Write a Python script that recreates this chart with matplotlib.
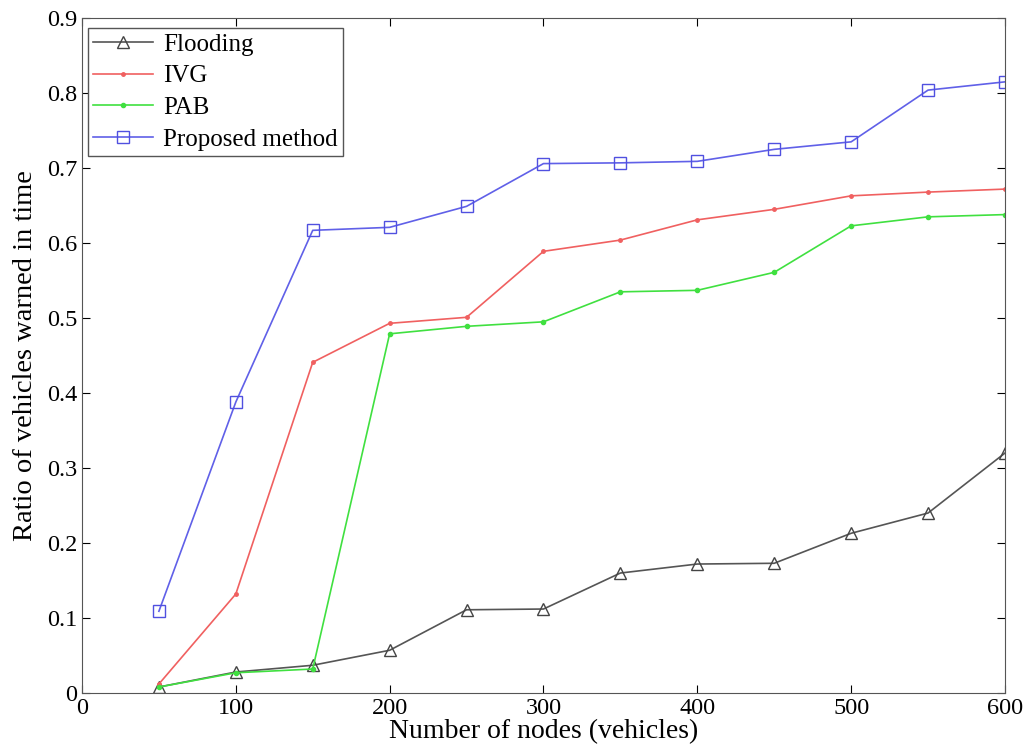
import numpy as np
import matplotlib
matplotlib.use('Agg')
import matplotlib.pyplot as plt

nodes = [50, 100, 150, 200, 250, 300, 350, 400, 450, 500, 550, 600]
flooding = [0.008, 0.028, 0.037, 0.057, 0.111, 0.112, 0.160, 0.172, 0.173, 0.213, 0.240, 0.320]
ivg = [0.012, 0.132, 0.441, 0.493, 0.501, 0.589, 0.604, 0.631, 0.645, 0.663, 0.668, 0.672]
pab = [0.008, 0.027, 0.032, 0.479, 0.489, 0.495, 0.535, 0.537, 0.561, 0.623, 0.635, 0.638]
proposed = [0.109, 0.388, 0.617, 0.621, 0.649, 0.706, 0.707, 0.709, 0.725, 0.735, 0.804, 0.815]

plt.rcParams['font.family'] = ['Liberation Serif', 'DejaVu Serif']

fig = plt.figure(figsize=(10.26, 7.55), dpi=100)
ax = fig.add_axes([0.0799, 0.0821, 0.8996, 0.8939])

ax.plot(nodes, flooding, color='#555555', lw=1.2, marker='^', ms=9,
        mfc='none', mec='#444444', label='Flooding')
ax.plot(nodes, ivg, color='#f06060', lw=1.2, marker='.', ms=5, label='IVG')
ax.plot(nodes, pab, color='#40e040', lw=1.2, marker='.', ms=6, label='PAB')
ax.plot(nodes, proposed, color='#6060e8', lw=1.2, marker='s', ms=9,
        mfc='none', mec='#5050e0', label='Proposed method')

ax.set_xlim(0, 600)
ax.set_ylim(0, 0.9)
ax.set_xticks(np.arange(0, 601, 100))
ax.set_yticks(np.arange(0, 0.91, 0.1))
ax.set_yticklabels(['0'] + ['%.1f' % v for v in np.arange(0.1, 0.91, 0.1)])
ax.tick_params(direction='in', top=True, right=True, labelsize=17.5, length=6)
ax.set_xlabel('Number of nodes (vehicles)', fontsize=20, labelpad=0)
ax.set_ylabel('Ratio of vehicles warned in time', fontsize=20.5, labelpad=6)
for s in ax.spines.values():
    s.set_color('#555555')

leg = ax.legend(loc='upper left', fontsize=18, fancybox=False, framealpha=1,
                edgecolor='#555555', borderpad=0.2, labelspacing=0.37,
                handlelength=2.4, handletextpad=0.4, borderaxespad=0,
                bbox_to_anchor=(0.0065, 0.985))
leg.get_frame().set_linewidth(1.0)

fig.savefig('out.png', dpi=100)
